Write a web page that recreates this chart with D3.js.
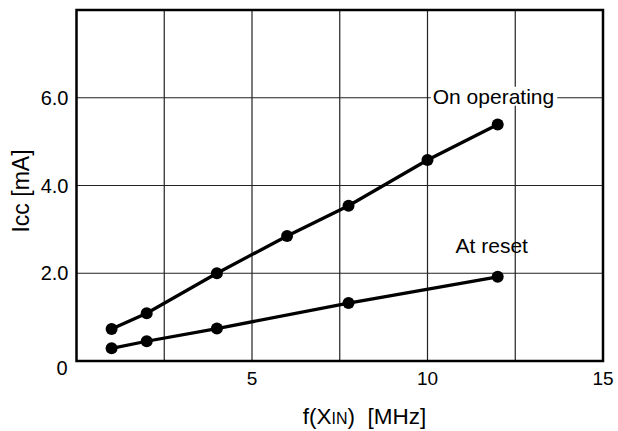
<!DOCTYPE html>
<html>
<head>
<meta charset="utf-8">
<script src="https://cdn.jsdelivr.net/npm/d3@7"></script>
<style>
  html, body { margin: 0; padding: 0; background: #fff; }
  text { font-family: "Liberation Sans", Arial, Helvetica, sans-serif; fill: #000; }
</style>
</head>
<body>
<div id="chart"></div>
<script>
// data
let freqOperating = [1, 2, 4, 6, 7.75, 10, 12]
let iccOperating = [0.73, 1.09, 2.0, 2.85, 3.54, 4.58, 5.39]
let freqReset = [1, 2, 4, 7.75, 12]
let iccReset = [0.29, 0.45, 0.74, 1.32, 1.92]
let xTicks = [5, 10, 15]
let yTicks = [2, 4, 6]
let xGrid = [2.5, 5, 7.5, 10, 12.5]
let yGrid = [2, 4, 6]

let width = 618
let height = 431
let margin = { top: 10, right: 15, bottom: 70, left: 76.5 }

function drawChart() {
    let svg = d3.select("#chart").append("svg")
        .attr("width", width)
        .attr("height", height)

    let xScale = d3.scaleLinear()
        .domain([0, 15])
        .range([margin.left, width - margin.right])
    let yScale = d3.scaleLinear()
        .domain([0, 8])
        .range([height - margin.bottom, margin.top])

    // grid
    svg.append("g").selectAll("line")
        .data(xGrid)
        .enter()
        .append("line")
        .attr("x1", d => xScale(d)).attr("x2", d => xScale(d))
        .attr("y1", yScale(0)).attr("y2", yScale(8))
        .attr("stroke", "#222").attr("stroke-width", 1.2)
    svg.append("g").selectAll("line")
        .data(yGrid)
        .enter()
        .append("line")
        .attr("x1", xScale(0)).attr("x2", xScale(15))
        .attr("y1", d => yScale(d)).attr("y2", d => yScale(d))
        .attr("stroke", "#222").attr("stroke-width", 1.2)

    // frame
    svg.append("rect")
        .attr("x", xScale(0)).attr("y", yScale(8))
        .attr("width", xScale(15) - xScale(0))
        .attr("height", yScale(0) - yScale(8))
        .attr("fill", "none")
        .attr("stroke", "#000")
        .attr("stroke-width", 2.5)

    // tick labels
    svg.append("g").selectAll("text")
        .data(xTicks)
        .enter()
        .append("text")
        .attr("x", d => xScale(d))
        .attr("y", yScale(0) + 24)
        .attr("text-anchor", "middle")
        .attr("font-size", "19px")
        .text(d => d)
    svg.append("g").selectAll("text")
        .data(yTicks)
        .enter()
        .append("text")
        .attr("x", xScale(0) - 8)
        .attr("y", d => yScale(d) + 7)
        .attr("text-anchor", "end")
        .attr("font-size", "20px")
        .text(d => d3.format(".1f")(d))
    svg.append("text")
        .attr("x", xScale(0) - 9)
        .attr("y", yScale(0) + 14)
        .attr("text-anchor", "end")
        .attr("font-size", "20px")
        .text("0")

    // axis titles
    let xTitle = svg.append("text")
        .attr("x", 364.5)
        .attr("y", height - 7)
        .attr("text-anchor", "middle")
        .attr("font-size", "22.5px")
    xTitle.append("tspan").text("f(X")
    xTitle.append("tspan").attr("font-size", "16px").text("IN")
    xTitle.append("tspan").attr("xml:space", "preserve").text(")  [MHz]")

    svg.append("text")
        .attr("transform", "translate(29,191) rotate(-90)")
        .attr("text-anchor", "middle")
        .attr("font-size", "23px")
        .text("Icc [mA]")

    // series
    let series = [
        freqOperating.map((f, i) => ({ x: f, y: iccOperating[i] })),
        freqReset.map((f, i) => ({ x: f, y: iccReset[i] }))
    ]
    let line = d3.line()
        .x(d => xScale(d.x))
        .y(d => yScale(d.y))
    series.forEach(function (s) {
        svg.append("path")
            .datum(s)
            .attr("d", line)
            .attr("fill", "none")
            .attr("stroke", "#000")
            .attr("stroke-width", 3.3)
        svg.append("g").selectAll("circle")
            .data(s)
            .enter()
            .append("circle")
            .attr("cx", d => xScale(d.x))
            .attr("cy", d => yScale(d.y))
            .attr("r", 6)
            .attr("fill", "#000")
    })

    // labels
    let opBg = svg.append("rect").attr("fill", "#fff")
    let opLabel = svg.append("text")
        .attr("x", xScale(10.15))
        .attr("y", yScale(6) + 6)
        .attr("font-size", "21px")
        .text("On operating")
    let bb = opLabel.node().getBBox()
    opBg.attr("x", bb.x - 2).attr("y", bb.y + 2)
        .attr("width", bb.width + 5).attr("height", bb.height - 4)

    svg.append("text")
        .attr("x", xScale(10.8))
        .attr("y", yScale(2.46))
        .attr("font-size", "21px")
        .text("At reset")
}

drawChart()
</script>
</body>
</html>
